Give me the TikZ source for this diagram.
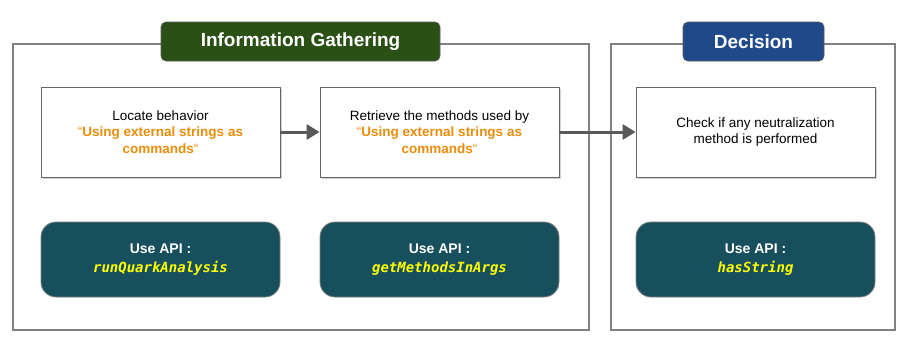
\documentclass[tikz,border=0pt]{standalone}
\usepackage{fontspec}
\setmainfont{Liberation Sans}
\newfontfamily\codefont{DejaVu Sans Mono}
\usetikzlibrary{shadows,arrows.meta}
\definecolor{frameg}{RGB}{128,128,128}
\definecolor{titlegreen}{RGB}{43,80,22}
\definecolor{titleblue}{RGB}{31,73,137}
\definecolor{apiteal}{RGB}{23,80,92}
\definecolor{orangetxt}{RGB}{236,140,10}
\definecolor{arrowg}{RGB}{89,89,89}
\definecolor{codeyellow}{RGB}{255,255,0}
\tikzset{
  container/.style={draw=frameg, line width=1.2pt, fill=white},
  titlebox/.style={draw=frameg!70!black, line width=0.6pt, rounded corners=5pt, text=white,
    font=\fontsize{19}{22}\selectfont\bfseries},
  stepbox/.style={draw=frameg!80!black, line width=0.8pt, fill=white, align=center,
    drop shadow={shadow xshift=1.5pt, shadow yshift=-1.5pt, opacity=0.35},
    font=\fontsize{13.5}{16.5}\selectfont},
  apibox/.style={draw=frameg, line width=0.8pt, fill=apiteal, rounded corners=15pt, align=center,
    text=white, font=\fontsize{14}{19}\selectfont\bfseries},
  flow/.style={draw=arrowg, line width=3pt, -{Triangle[length=13pt,width=15pt]}},
}
\newcommand{\hlopen}[1]{{\color{orangetxt}“\textbf{#1}}}
\newcommand{\hlclose}[1]{{\color{orangetxt}\textbf{#1}“}}
\newcommand{\apicode}[1]{{\color{codeyellow}\codefont\bfseries\itshape #1}}
\begin{document}
\begin{tikzpicture}[x=1pt,y=-1pt]
\useasboundingbox (0,0) rectangle (909,343);
% containers
\draw[container] (13,44) rectangle (589,330);
\draw[container] (611,44) rectangle (895,330);
\node[titlebox, fill=titlegreen, minimum width=279pt, minimum height=39pt] (t1) at (300.5,41.5) {Information Gathering};
\node[titlebox, fill=titleblue, minimum width=141pt, minimum height=39pt] (t2) at (753.5,41.5) {Decision};
% step boxes
\node[stepbox, minimum width=239pt, minimum height=90pt] (s1) at (160.5,132) {Locate behavior\\ \hlopen{Using external strings as}\\ \hlclose{commands}};
\node[stepbox, minimum width=239pt, minimum height=90pt] (s2) at (439.5,132) {Retrieve the methods used by\\ \hlopen{Using external strings as}\\ \hlclose{commands}};
\node[stepbox, minimum width=239pt, minimum height=90pt] (s3) at (755.5,132) {Check if any neutralization\\ method is performed};
% api boxes
\node[apibox, minimum width=239pt, minimum height=75pt] (a1) at (160.5,259.5) {Use API :\\ \apicode{runQuarkAnalysis}};
\node[apibox, minimum width=239pt, minimum height=75pt] (a2) at (439.5,259.5) {Use API :\\ \apicode{getMethodsInArgs}};
\node[apibox, minimum width=239pt, minimum height=75pt] (a3) at (755.5,259.5) {Use API :\\ \apicode{hasString}};
% arrows
\draw[flow] (s1.east) -- (s2.west);
\draw[flow] (s2.east) -- (s3.west);
\end{tikzpicture}
\end{document}
